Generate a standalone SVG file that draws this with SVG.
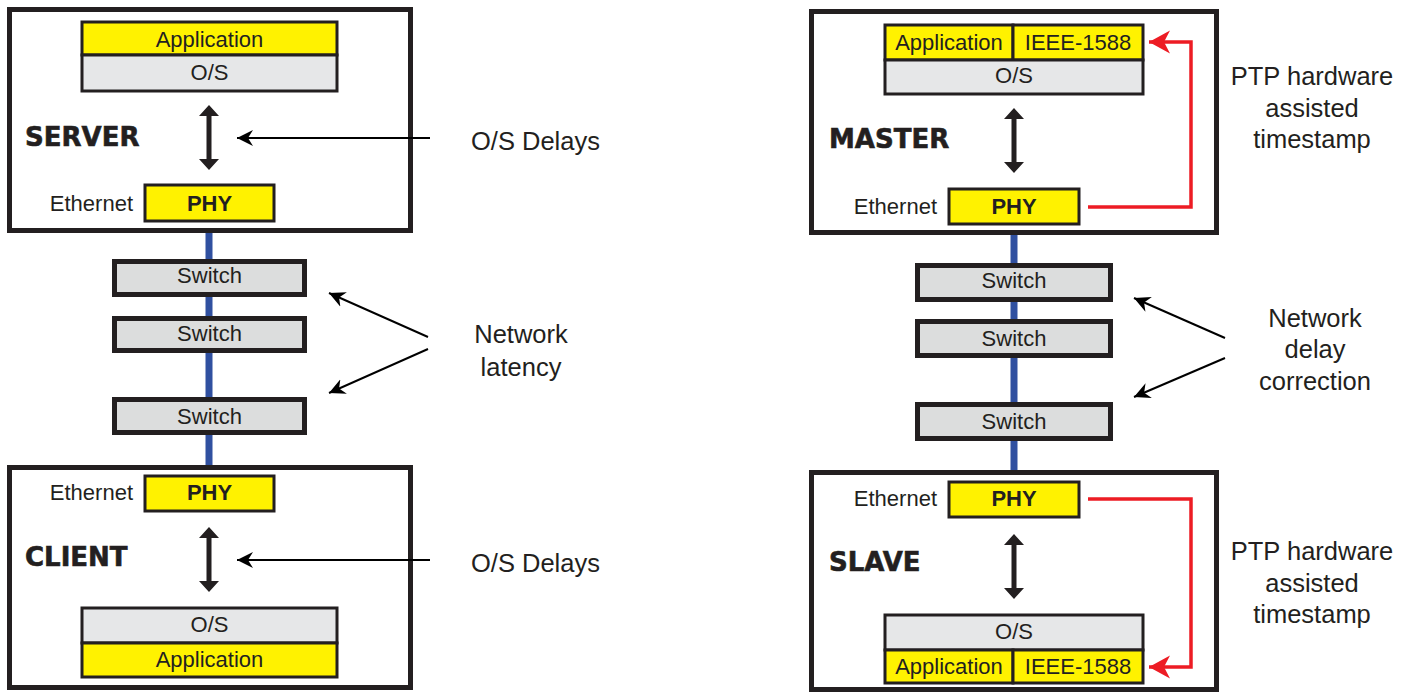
<svg xmlns="http://www.w3.org/2000/svg" width="1414" height="694" viewBox="0 0 1414 694">
<defs>
<style>
.box{fill:#fff;stroke:#231f20;stroke-width:5}
.yel{fill:#fff200;stroke:#231f20;stroke-width:3}
.gry{fill:#e6e7e8;stroke:#231f20;stroke-width:3}
.sw{fill:#dcdddd;stroke:#231f20;stroke-width:5}
.t{font-family:"Liberation Sans",Arial,sans-serif;font-size:22px;fill:#231f20;text-anchor:middle}
.tb{font-family:"Liberation Sans",Arial,sans-serif;font-size:22px;font-weight:bold;fill:#231f20;text-anchor:middle}
.te{font-family:"Liberation Sans",Arial,sans-serif;font-size:22px;fill:#231f20;text-anchor:end}
.side{font-family:"Liberation Sans",Arial,sans-serif;font-size:25.5px;fill:#231f20;text-anchor:middle}
.sidel{font-family:"Liberation Sans",Arial,sans-serif;font-size:25.5px;fill:#231f20}
.title{font-family:"DejaVu Sans",sans-serif;font-size:26px;font-weight:bold;fill:#231f20;stroke:#231f20;stroke-width:0.6}
.blue{stroke:#3050a0;stroke-width:7}
.ptr{stroke:#000;stroke-width:2;fill:none;marker-end:url(#ah)}
.red{stroke:#ed1c24;stroke-width:3.5;fill:none;marker-end:url(#rh)}
.dbl{fill:#231f20}
</style>
<marker id="ah" markerUnits="userSpaceOnUse" viewBox="0 -9 17 18" refX="16" refY="0" markerWidth="17" markerHeight="18" orient="auto">
<path d="M0,-8 L16,0 L0,8 L5,0 Z" fill="#000"/>
</marker>
<marker id="rh" markerUnits="userSpaceOnUse" viewBox="0 -12 22 24" refX="21" refY="0" markerWidth="22" markerHeight="24" orient="auto">
<path d="M0,-11.5 L21,0 L0,11.5 L6,0 Z" fill="#ed1c24"/>
</marker>
<path id="dblv" d="M0,0 L10,11 L2.5,11 L2.5,54 L10,54 L0,65 L-10,54 L-2.5,54 L-2.5,11 L-10,11 Z"/>
</defs>

<g id="backbone">
<line class="blue" x1="209" y1="232" x2="209" y2="466"/>
<line class="blue" x1="1014" y1="234" x2="1014" y2="471"/>
</g>

<g id="server">
<rect class="box" x="9.5" y="9.5" width="401" height="221"/>
<rect class="yel" x="82" y="22" width="255" height="33"/>
<rect class="gry" x="82" y="55" width="255" height="36"/>
<text class="t" x="209.5" y="47">Application</text>
<text class="t" x="209.5" y="80">O/S</text>
<use href="#dblv" class="dbl" x="209" y="105"/>
<text class="title" x="25" y="146">SERVER</text>
<rect class="yel" x="145" y="185" width="129" height="36"/>
<text class="tb" x="209.5" y="211">PHY</text>
<text class="te" x="133" y="211">Ethernet</text>
</g>

<g id="switches-left">
<rect class="sw" x="114.5" y="261.5" width="190" height="33"/>
<text class="t" x="209.5" y="283">Switch</text>
<rect class="sw" x="114.5" y="318.5" width="190" height="32"/>
<text class="t" x="209.5" y="341">Switch</text>
<rect class="sw" x="114.5" y="399.5" width="190" height="33"/>
<text class="t" x="209.5" y="424">Switch</text>
</g>

<g id="client">
<rect class="box" x="9.5" y="467.5" width="401" height="220"/>
<rect class="yel" x="145" y="476" width="129" height="35"/>
<text class="tb" x="209.5" y="500">PHY</text>
<text class="te" x="133" y="500">Ethernet</text>
<use href="#dblv" class="dbl" x="209" y="527"/>
<text class="title" x="25" y="566">CLIENT</text>
<rect class="gry" x="82" y="608" width="255" height="35"/>
<rect class="yel" x="82" y="643" width="255" height="34"/>
<text class="t" x="209.5" y="632">O/S</text>
<text class="t" x="209.5" y="667">Application</text>
</g>

<g id="labels-left">
<text class="sidel" x="471" y="150">O/S Delays</text>
<text class="sidel" x="471" y="572">O/S Delays</text>
<text class="side" x="521" y="343">Network</text>
<text class="side" x="521" y="376">latency</text>
</g>

<g id="master">
<rect class="box" x="811.5" y="11.5" width="405" height="221"/>
<rect class="yel" x="885" y="25" width="128" height="35"/>
<rect class="yel" x="1013" y="25" width="130" height="35"/>
<rect class="gry" x="885" y="60" width="258" height="34"/>
<text class="t" x="949" y="50">Application</text>
<text class="t" x="1078" y="50">IEEE-1588</text>
<text class="t" x="1014" y="83">O/S</text>
<use href="#dblv" class="dbl" x="1014" y="108"/>
<text class="title" x="829" y="148">MASTER</text>
<rect class="yel" x="949" y="189" width="130" height="35"/>
<text class="tb" x="1014" y="214">PHY</text>
<text class="te" x="937" y="214">Ethernet</text>
</g>

<g id="switches-right">
<rect class="sw" x="917.5" y="265.5" width="193" height="34"/>
<text class="t" x="1014" y="288">Switch</text>
<rect class="sw" x="917.5" y="321.5" width="193" height="34"/>
<text class="t" x="1014" y="346">Switch</text>
<rect class="sw" x="917.5" y="404.5" width="193" height="34"/>
<text class="t" x="1014" y="429">Switch</text>
</g>

<g id="slave">
<rect class="box" x="811.5" y="472.5" width="405" height="217"/>
<rect class="yel" x="949" y="482" width="130" height="35"/>
<text class="tb" x="1014" y="506">PHY</text>
<text class="te" x="937" y="506">Ethernet</text>
<use href="#dblv" class="dbl" x="1014" y="534"/>
<text class="title" x="829" y="571">SLAVE</text>
<rect class="gry" x="885" y="615" width="258" height="35"/>
<rect class="yel" x="885" y="650" width="128" height="33"/>
<rect class="yel" x="1013" y="650" width="130" height="33"/>
<text class="t" x="1014" y="639">O/S</text>
<text class="t" x="949" y="674">Application</text>
<text class="t" x="1078" y="674">IEEE-1588</text>
</g>

<g id="labels-right">
<text class="side" x="1312" y="85">PTP hardware</text>
<text class="side" x="1312" y="117">assisted</text>
<text class="side" x="1312" y="148">timestamp</text>
<text class="side" x="1315" y="327">Network</text>
<text class="side" x="1315" y="358">delay</text>
<text class="side" x="1315" y="390">correction</text>
<text class="side" x="1312" y="560">PTP hardware</text>
<text class="side" x="1312" y="592">assisted</text>
<text class="side" x="1312" y="623">timestamp</text>
</g>

<g id="connectors">
<line class="ptr" x1="430" y1="138" x2="237" y2="138"/>
<line class="ptr" x1="430" y1="560" x2="237" y2="560"/>
<line class="ptr" x1="428" y1="337" x2="329" y2="293"/>
<line class="ptr" x1="428" y1="349" x2="329" y2="393"/>
<line class="ptr" x1="1225" y1="338" x2="1134" y2="298"/>
<line class="ptr" x1="1225" y1="358" x2="1134" y2="397"/>
<polyline class="red" points="1088,207 1191,207 1191,42 1149,42"/>
<polyline class="red" points="1088,499 1191,499 1191,667 1149,667"/>
</g>
</svg>
